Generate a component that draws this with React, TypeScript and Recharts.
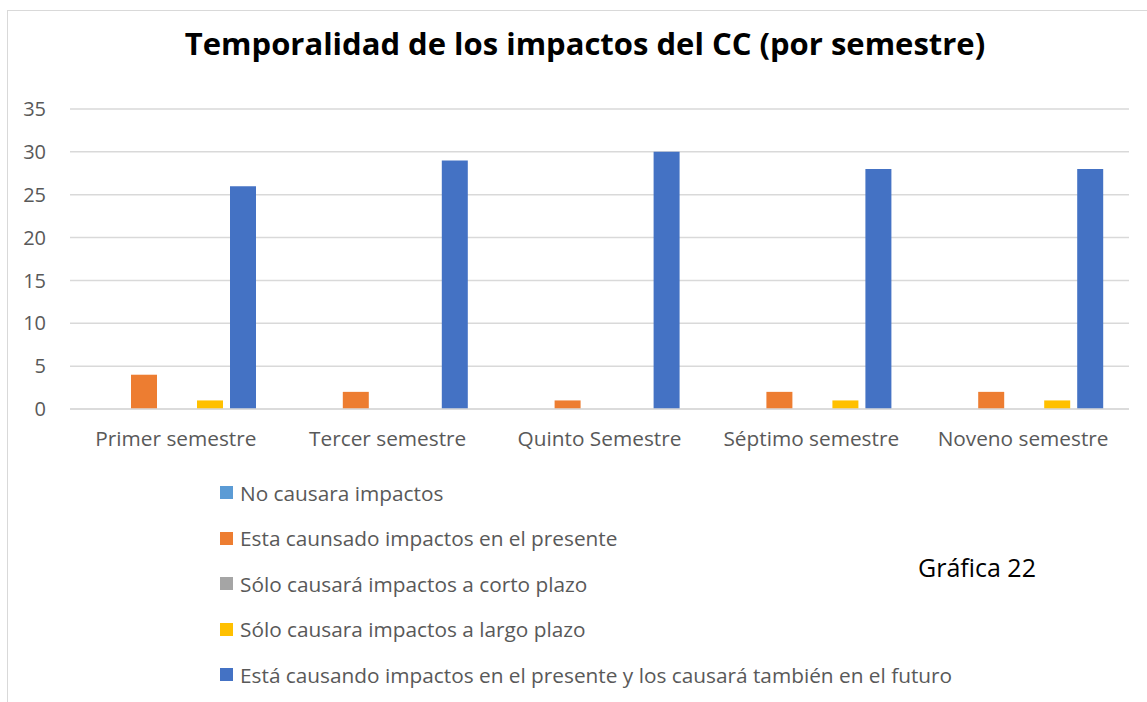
import React from "react";
import { BarChart, Bar, XAxis, YAxis, CartesianGrid } from "recharts";

const categories = ["Primer semestre", "Tercer semestre", "Quinto Semestre", "Séptimo semestre", "Noveno semestre"];
const noCausara = [0, 0, 0, 0, 0];
const presente = [4, 2, 1, 2, 2];
const cortoPlazo = [0, 0, 0, 0, 0];
const largoPlazo = [1, 0, 0, 1, 1];
const presenteFuturo = [26, 29, 30, 28, 28];
const yTicks = [0, 5, 10, 15, 20, 25, 30, 35];

const seriesNames = [
  "No causara impactos",
  "Esta caunsado impactos en el presente",
  "Sólo causará impactos a corto plazo",
  "Sólo causara impactos a largo plazo",
  "Está causando impactos en el presente y los causará también en el futuro",
];
const colors = ["#5B9BD5", "#ED7D31", "#A5A5A5", "#FFC000", "#4472C4"];

const data = categories.map((c, i) => ({
  name: c,
  s0: noCausara[i],
  s1: presente[i],
  s2: cortoPlazo[i],
  s3: largoPlazo[i],
  s4: presenteFuturo[i],
}));

const FONT = "'Open Sans', sans-serif";

export default function App() {
  return (
    <div style={{ position: "absolute", left: 0, top: 0, width: 1147, height: 702, background: "#fff", fontFamily: FONT }}>
      <div style={{ position: "absolute", left: 7, top: 10, width: 1140, height: 692, borderLeft: "1.5px solid #d9d9d9", borderTop: "1.5px solid #d9d9d9" }} />
      <div style={{ position: "absolute", left: 0, width: 1170, top: 22, textAlign: "center", fontSize: 31, fontWeight: 700, color: "#000" }}>
        Temporalidad de los impactos del CC (por semestre)
      </div>
      <div style={{ position: "absolute", left: 918, top: 550, fontSize: 25, color: "#000" }}>Gráfica 22</div>
      <div style={{ position: "absolute", left: 220, top: 470 }}>
        {seriesNames.map((n, i) => (
          <div key={i} style={{ display: "flex", alignItems: "center", height: 45.5 }}>
            <div style={{ width: 13, height: 13, background: colors[i], marginRight: 7 }} />
            <span style={{ fontSize: 20.8, color: "#595959" }}>{n}</span>
          </div>
        ))}
      </div>
      <div style={{ position: "absolute", left: 0, top: 0 }}>
        <BarChart
          width={1147}
          height={480}
          data={data}
          margin={{ top: 109, right: 18, bottom: 10, left: 10 }}
          barCategoryGap={28}
          barGap={7}
        >
          <CartesianGrid vertical={false} stroke="#d9d9d9" strokeWidth={1.5} />
          <XAxis
            dataKey="name"
            axisLine={{ stroke: "#d9d9d9", strokeWidth: 1.5 }}
            tickLine={false}
            tick={{ fill: "#595959", fontSize: 20.8, fontFamily: FONT }}
            tickMargin={16}
            height={61}
          />
          <YAxis
            domain={[0, 35]}
            ticks={yTicks}
            axisLine={false}
            tickLine={false}
            tick={{ fill: "#595959", fontSize: 20, fontFamily: FONT }}
            tickMargin={18}
            width={60}
          />
          {seriesNames.map((n, i) => (
            <Bar key={i} dataKey={`s${i}`} name={n} fill={colors[i]} isAnimationActive={false} />
          ))}
        </BarChart>
      </div>
    </div>
  );
}
